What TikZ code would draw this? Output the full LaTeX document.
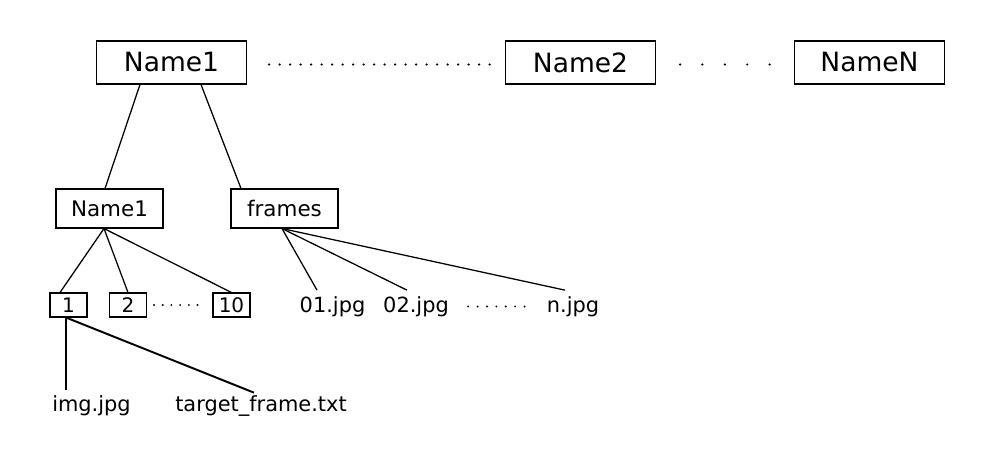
\documentclass[tikz,border=0pt]{standalone}
\usepackage{fontspec}
\setmainfont{DejaVu Sans}
\newlength\pu
\setlength\pu{0.02cm}
\tikzset{
  bigbox/.style={draw, line width=0.6pt, minimum width=150\pu, minimum height=43\pu, inner sep=0pt, font=\fontsize{15.1}{18}\selectfont},
  midbox/.style={draw, line width=0.6pt, minimum width=107\pu, minimum height=39\pu, inner sep=0pt, font=\fontsize{12.2}{14}\selectfont},
  smallbox/.style={draw, line width=0.6pt, minimum width=37\pu, minimum height=24\pu, inner sep=0pt, font=\fontsize{11.4}{13}\selectfont},
  lbl/.style={inner sep=0pt, text height=15\pu, text depth=5\pu, font=\fontsize{11.9}{14}\selectfont},
  edge/.style={line width=0.72pt},
  thickedge/.style={line width=1.1pt},
  dotline/.style={line width=1.4pt, line cap=round}
}
\begin{document}
\begin{tikzpicture}[x=1\pu, y=-1\pu]
\useasboundingbox (0,0) rectangle (1000,454);
% top row
\node[bigbox] (top1) at (171.5,62.5) {Name1};
\node[bigbox] (top2) at (580.5,62.5) {Name2};
\node[bigbox] (topN) at (869.5,62.5) {NameN};
\draw[dotline, dash pattern=on 0pt off 10.5\pu] ([xshift=22\pu,yshift=-2\pu]top1.east) -- ([xshift=-13\pu,yshift=-2\pu]top2.west);
\draw[dotline, dash pattern=on 0pt off 22.4\pu] ([xshift=24\pu,yshift=-2\pu]top2.east) -- ([xshift=-23\pu,yshift=-2\pu]topN.west);
% middle row
\node[midbox] (mid1) at (109.5,208.5) {Name1};
\node[midbox] (frames) at (284.5,208.5) {frames};
\draw[edge] ([xshift=-31.5\pu]top1.south) -- ([xshift=-4.5\pu]mid1.north);
\draw[edge] ([xshift=29.5\pu]top1.south) -- ([xshift=-43.5\pu]frames.north);
% small boxes
\node[smallbox] (b1) at (68.5,305) {1};
\node[smallbox] (b2) at (128,305) {2};
\node[smallbox] (b10) at (231.5,305) {10};
\draw[edge] ([xshift=-5.5\pu]mid1.south) -- ([xshift=-8.5\pu]b1.north);
\draw[edge] ([xshift=-5.5\pu]mid1.south) -- (b2.north);
\draw[edge] ([xshift=-5.5\pu]mid1.south) -- (b10.north);
\draw[dotline, line width=1.2pt, dash pattern=on 0pt off 8.7\pu] ([xshift=7\pu]b2.east) -- ([xshift=-14\pu]b10.west);
% frames files
\node[lbl] (f01) at (332.5,307.5) {01.jpg};
\node[lbl] (f02) at (416,307.5) {02.jpg};
\node[lbl] (fn) at (573,307.5) {n.jpg};
\draw[edge] ([xshift=-2.5\pu]frames.south) -- ([xshift=-15.5\pu,yshift=7\pu]f01.north);
\draw[edge] ([xshift=-2.5\pu]frames.south) -- ([xshift=-9\pu,yshift=7\pu]f02.north);
\draw[edge] ([xshift=-2.5\pu]frames.south) -- ([xshift=-8\pu,yshift=7\pu]fn.north);
\draw[dotline, line width=1.2pt, dash pattern=on 0pt off 9.4\pu] ([xshift=19\pu,yshift=1\pu]f02.east) -- ([xshift=-21\pu,yshift=1\pu]fn.west);
% files in 1
\node[lbl] (img) at (91.5,406) {img.jpg};
\node[lbl] (tgt) at (261,406) {target\_frame.txt};
\draw[thickedge] ([xshift=-2.5\pu]b1.south) -- ([xshift=-25.5\pu,yshift=6\pu]img.north);
\draw[thickedge] ([xshift=-2.5\pu]b1.south) -- ([xshift=-7\pu,yshift=3\pu]tgt.north);
\end{tikzpicture}
\end{document}
